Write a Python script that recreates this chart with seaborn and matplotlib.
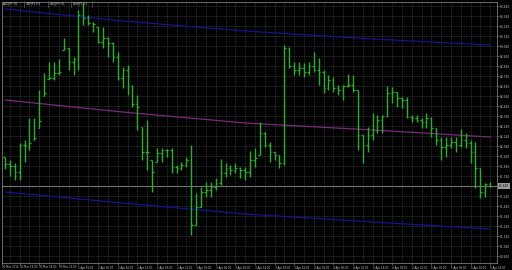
import numpy as np
import pandas as pd
import matplotlib
matplotlib.use("Agg")
import matplotlib.pyplot as plt
import seaborn as sns

# ---- data (USDJPY H1) ----
opens = [81.93, 81.86, 81.84, 81.78, 82.05, 82.04, 82.10, 82.22, 82.54, 82.71,
         82.72, 82.77, 83.00, 83.02, 82.88, 82.91, 83.35, 83.32, 83.27, 83.23,
         83.08, 83.12, 83.07, 82.93, 82.72, 82.80, 82.64, 82.46, 82.23, 81.98,
         81.90, 81.88, 81.97, 82.00, 82.00, 81.83, 81.82, 81.85, 81.90, 81.25,
         81.43, 81.58, 81.60, 81.63, 81.67, 81.77, 81.82, 81.80, 81.82, 81.80,
         81.78, 81.90, 81.95, 82.17, 82.05, 81.98, 81.95, 81.87, 83.02, 82.84,
         82.80, 82.82, 82.78, 82.84, 82.80, 82.78, 82.62, 82.70, 82.62, 82.60,
         82.64, 82.65, 82.60, 82.15, 82.05, 82.15, 82.20, 82.30, 82.34, 82.57,
         82.58, 82.52, 82.50, 82.33, 82.32, 82.30, 82.28, 82.32, 82.22, 82.10,
         82.03, 82.05, 82.08, 82.05, 82.10, 82.07, 81.98, 81.82, 81.58, 81.66]
highs = [81.93, 81.90, 81.87, 82.07, 82.10, 82.32, 82.32, 82.60, 82.77, 82.88,
         82.88, 82.91, 83.12, 83.02, 82.93, 83.40, 83.47, 83.35, 83.28, 83.23,
         83.23, 83.13, 83.08, 82.98, 82.83, 82.85, 82.65, 82.55, 82.23, 82.30,
         81.90, 82.02, 82.02, 82.01, 82.02, 81.85, 81.88, 81.93, 82.05, 81.57,
         81.63, 81.68, 81.68, 81.72, 81.91, 81.87, 81.85, 81.87, 81.83, 81.83,
         81.99, 82.02, 82.28, 82.18, 82.08, 81.98, 81.95, 83.05, 83.03, 82.88,
         82.88, 82.87, 82.88, 82.98, 82.92, 82.80, 82.75, 82.73, 82.65, 82.65,
         82.76, 82.75, 82.60, 82.15, 82.23, 82.37, 82.35, 82.35, 82.64, 82.63,
         82.58, 82.53, 82.53, 82.35, 82.35, 82.32, 82.37, 82.33, 82.22, 82.13,
         82.13, 82.13, 82.13, 82.21, 82.17, 82.10, 82.08, 81.82, 81.67, 81.68]
lows = [81.81, 81.74, 81.70, 81.70, 81.88, 82.00, 82.10, 82.22, 82.54, 82.71,
        82.70, 82.75, 83.00, 82.80, 82.75, 82.80, 83.25, 83.25, 83.18, 83.07,
        83.02, 82.93, 82.88, 82.70, 82.62, 82.55, 82.43, 82.20, 81.90, 81.80,
        81.58, 81.88, 81.88, 81.93, 81.77, 81.77, 81.80, 81.83, 81.15, 81.25,
        81.43, 81.53, 81.53, 81.60, 81.65, 81.73, 81.75, 81.77, 81.72, 81.70,
        81.73, 81.83, 81.95, 82.03, 81.88, 81.90, 81.82, 81.85, 82.82, 82.75,
        82.75, 82.73, 82.75, 82.78, 82.65, 82.57, 82.60, 82.58, 82.55, 82.50,
        82.63, 82.58, 82.00, 81.87, 81.98, 82.10, 82.17, 82.17, 82.33, 82.47,
        82.43, 82.42, 82.32, 82.28, 82.28, 82.22, 82.22, 82.13, 82.05, 81.90,
        81.93, 82.02, 81.98, 82.03, 82.02, 81.87, 81.62, 81.52, 81.53, 81.63]
closes = [81.86, 81.84, 81.78, 82.05, 82.04, 82.07, 82.12, 82.29, 82.57, 82.72,
          82.77, 82.78, 83.02, 82.88, 82.91, 83.35, 83.32, 83.27, 83.26, 83.08,
          83.12, 83.07, 82.93, 82.72, 82.80, 82.82, 82.46, 82.43, 81.98, 81.98,
          81.78, 81.97, 82.00, 82.00, 81.83, 81.82, 81.85, 81.90, 81.25, 81.43,
          81.58, 81.60, 81.63, 81.67, 81.77, 81.82, 81.80, 81.82, 81.80, 81.78,
          81.90, 81.92, 82.17, 82.05, 81.98, 81.95, 81.87, 83.02, 82.84, 82.80,
          82.82, 82.78, 82.84, 82.80, 82.78, 82.62, 82.70, 82.62, 82.60, 82.64,
          82.65, 82.60, 82.15, 82.05, 82.15, 82.20, 82.30, 82.34, 82.57, 82.58,
          82.52, 82.50, 82.33, 82.32, 82.30, 82.28, 82.32, 82.22, 82.10, 82.03,
          82.05, 82.08, 82.05, 82.10, 82.07, 81.98, 81.82, 81.58, 81.66, 81.64]

time_labels = ["30 Mar 2012", "30 Mar 14:00", "30 Mar 18:00", "30 Mar 22:00",
               "2 Apr 02:00", "2 Apr 06:00", "2 Apr 10:00", "2 Apr 14:00",
               "2 Apr 18:00", "2 Apr 22:00", "3 Apr 02:00", "3 Apr 06:00",
               "3 Apr 10:00", "3 Apr 14:00", "3 Apr 18:00", "3 Apr 22:00",
               "4 Apr 02:00", "4 Apr 06:00", "4 Apr 10:00", "4 Apr 14:00",
               "4 Apr 18:00", "4 Apr 22:00", "5 Apr 02:00", "5 Apr 06:00",
               "5 Apr 10:00", "5 Apr 14:00"]
label_bars = [-0.6, 3, 7, 11, 15, 19, 23, 27, 31, 35, 39, 43, 47, 51, 55, 59,
              63, 67, 71, 75, 79, 83, 87, 91, 95, 99]

chan_bars = [0, 24, 49, 75, 99]
chan_mid = [82.50, 82.38, 82.27, 82.20, 82.13]
chan_up = [83.41, 83.29, 83.19, 83.11, 83.05]
chan_dn = [81.58, 81.47, 81.36, 81.28, 81.21]

last_price = 81.64
price_top_label = 83.44
price_step = 0.10
n_price_labels = 26
tabs = ["AUDJPY,H1", "GBPJPY,H1", "USDJPY,H1", "EURJPY,H1"]

# ---- style ----
sns.set_theme(style="dark")
plt.rcParams["font.family"] = ["DejaVu Sans"]

BG = "#000000"
BAR = "#22b522"
BLUE = "#14148c"
MAG = "#7a2a7a"
GRID = "#3c3c3c"
TXT = "#c8c8c8"
AXC = "#7a7a7a"

fig = plt.figure(figsize=(5.12, 2.70), dpi=100, facecolor=BG)
ax = fig.add_axes([2 / 512, 7 / 270, 495 / 512, 261 / 270])
ax.set_facecolor(BG)

idx = np.arange(len(closes))
ax.set_xlim(-0.61, 100.4)
ax.set_ylim(80.87, 83.48)

# grid
ygrid = [price_top_label - k * price_step for k in range(n_price_labels)]
for yv in ygrid:
    ax.axhline(yv, color=GRID, lw=0.6, ls=(0, (1, 1)), zorder=0)
for xv in np.arange(1, 100, 2):
    ax.axvline(xv, color=GRID, lw=0.6, ls=(0, (1, 1)), zorder=0)

# last price line
ax.axhline(last_price, color="#767676", lw=0.8, zorder=1)

# regression channel
df = pd.DataFrame({"bar": chan_bars, "mid": chan_mid, "up": chan_up, "dn": chan_dn})
sns.lineplot(data=df, x="bar", y="up", ax=ax, color=BLUE, lw=0.9, zorder=2)
sns.lineplot(data=df, x="bar", y="dn", ax=ax, color=BLUE, lw=0.9, zorder=2)
sns.lineplot(data=df, x="bar", y="mid", ax=ax, color=MAG, lw=0.9, zorder=2)

# OHLC bars
ax.vlines(idx, lows, highs, color=BAR, lw=1.0, zorder=3)
ax.hlines(opens, idx - 0.33, idx, color=BAR, lw=0.9, zorder=3)
ax.hlines(closes, idx, idx + 0.33, color=BAR, lw=0.9, zorder=3)

# axes styling
for s in ax.spines.values():
    s.set_color(AXC)
    s.set_linewidth(0.6)
ax.set_xlabel("")
ax.set_ylabel("")
ax.yaxis.tick_right()
ax.set_yticks(ygrid)
ax.set_yticklabels([f"{v:.3f}" for v in ygrid])
ax.tick_params(axis="y", colors=AXC, labelcolor=TXT, labelsize=2.1, length=1.5,
               width=0.5, pad=0.8, right=True, left=False)
ax.set_xticks(label_bars)
ax.set_xticklabels(time_labels, ha="left")
ax.tick_params(axis="x", colors=AXC, labelcolor=TXT, labelsize=1.9, length=1.2,
               width=0.5, pad=0.6, bottom=True)
for lab in ax.get_xticklabels():
    lab.set_horizontalalignment("left")
ax.grid(False)

# last price marker on the price scale
ax.annotate(f"{last_price:.3f}", xy=(1.0, last_price), xycoords=("axes fraction", "data"),
            xytext=(1.2, 0), textcoords="offset points", va="center", ha="left",
            fontsize=2.1, color="#000000",
            bbox=dict(boxstyle="square,pad=0.25", fc="#9a9a9a", ec="none"))

# symbol tabs
xpos = [3, 26, 50, 73]
for t, xp in zip(tabs, xpos):
    fig.text(xp / 512, 1 - 4 / 270, t, fontsize=2.2, color=TXT, va="center", ha="left")
for xp in [24, 48, 71, 92]:
    fig.add_artist(plt.Line2D([xp / 512, xp / 512], [1 - 7 / 270, 1 - 1 / 270],
                              color="#606060", lw=0.5))

fig.savefig("out.png", dpi=100, facecolor=BG)
